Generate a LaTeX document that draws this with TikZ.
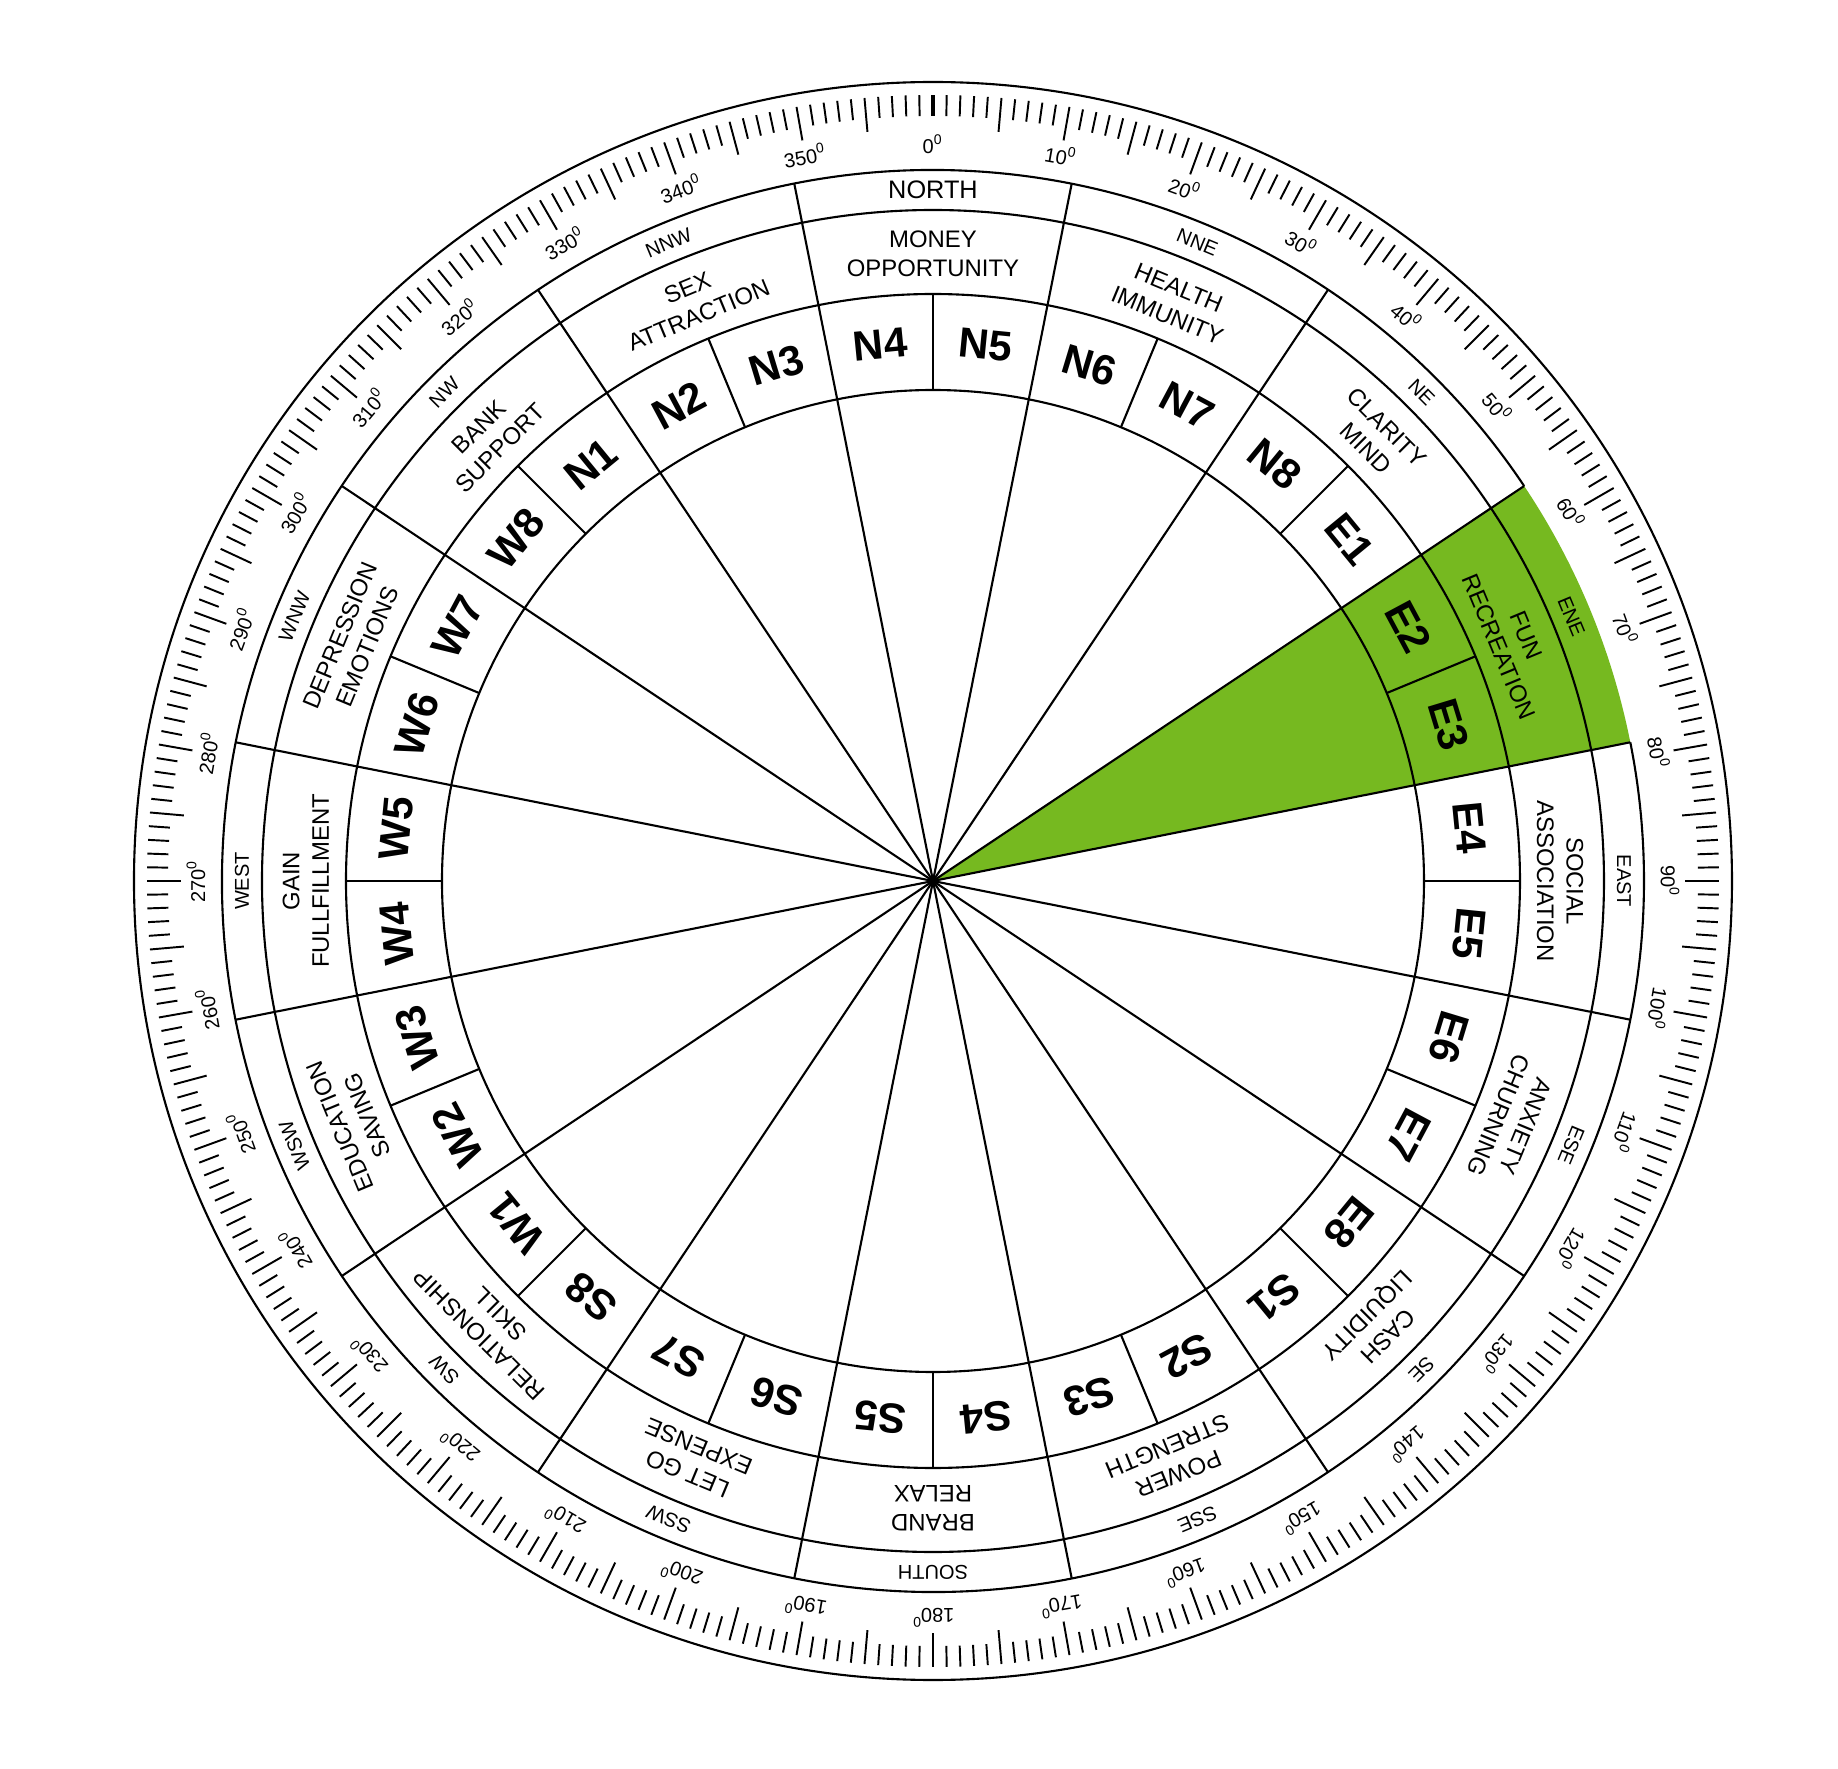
\documentclass[tikz,border=0pt]{standalone}
\usepackage{fontspec}
\setmainfont{Liberation Sans}
\usepackage{tikz}
\usetikzlibrary{calc}
\definecolor{fungreen}{RGB}{118,185,32}
\tikzset{ring/.style={draw,line width=0.6pt},
    spoke/.style={draw,line width=0.6pt},
    tick/.style={draw,line width=0.55pt},
    cell label/.style={font=\fontsize{12}{14}\selectfont\bfseries,inner sep=0pt},
    area label/.style={font=\fontsize{6.8}{8.4}\selectfont,align=center,inner sep=0pt},
    wind label/.style={font=\fontsize{5.7}{7}\selectfont,inner sep=0pt},
    degree label/.style={font=\fontsize{5.7}{7}\selectfont,inner sep=0pt}}

\begin{document}
\begin{tikzpicture}[line join=round]
  % Frame
  \fill[white] (-9.33,-8.88) rectangle (9.05,8.81);
  \useasboundingbox (-9.33,-8.88) rectangle (9.05,8.81);
  \coordinate (hub) at (0,0);

  % Highlighted ENE sector
  \fill[fungreen] (hub) -- (33.75:7.11) arc[start angle=33.75, end angle=11.25, radius=7.11] -- cycle;

  % Rings
  \draw[ring] (hub) circle[radius=7.99];
  \draw[ring] (33.75:7.11) arc[start angle=33.75, end angle=371.25, radius=7.11];
  \draw[ring] (hub) circle[radius=6.71];
  \draw[ring] (hub) circle[radius=5.87];
  \draw[ring] (hub) circle[radius=4.91];

  % Spokes and cell walls
  \foreach \b in {0,...,15}{
    \draw[spoke] (hub) -- (78.75-22.5*\b:7.11);
    \draw[spoke] (90-22.5*\b:4.91) -- (90-22.5*\b:5.87);
  }

  % Degree scale
  \foreach \d in {1,...,359}{
    \pgfmathsetmacro{\tickin}{mod(\d,5)==0 ? 7.52 : 7.65}
    \draw[tick] (90-\d:\tickin) -- (90-\d:7.86);
  }
  \draw[tick, line width=1pt] (90:7.65) -- (90:7.86);
  \foreach \d in {0,10,...,350}
    \node[degree label, rotate=-\d] (deg\d) at (90-\d:7.37) {\d\textsuperscript{0}};

  % Wind names
  \node[wind label, font=\fontsize{7.2}{8.5}\selectfont] (windN) at (90:6.91) {NORTH};
  \foreach \w [count=\k] in {NNE,NE,ENE,EAST,ESE,SE,SSE,SOUTH,SSW,SW,WSW,WEST,WNW,NW,NNW}
    \node[wind label, rotate=-22.5*\k] (wind\w) at (90-22.5*\k:6.91) {\w};

  % Areas
  \foreach \lineA/\lineB [count=\k from 0] in {MONEY/OPPORTUNITY, HEALTH/IMMUNITY,
      CLARITY/MIND, FUN/RECREATION, SOCIAL/ASSOCIATION, ANXIETY/CHURNING,
      CASH/LIQUIDITY, POWER/STRENGTH, BRAND/RELAX, LET GO/EXPENSE,
      RELATIONSHIP/SKILL, EDUCATION/SAVING, GAIN/FULLFILLMENT,
      DEPRESSION/EMOTIONS, BANK/SUPPORT, SEX/ATTRACTION}
    \node[area label, rotate=-22.5*\k] (area\k) at (90-22.5*\k:6.27) {\lineA\\\lineB};

  % Cells
  \foreach \c [count=\j from 0] in {N1,N2,N3,N4,N5,N6,N7,N8,E1,E2,E3,E4,E5,E6,E7,E8,
      S1,S2,S3,S4,S5,S6,S7,S8,W1,W2,W3,W4,W5,W6,W7,W8}
    \node[cell label, rotate=39.375-11.25*\j] (cell\c) at (129.375-11.25*\j:5.39) {\c};

\end{tikzpicture}
\end{document}
